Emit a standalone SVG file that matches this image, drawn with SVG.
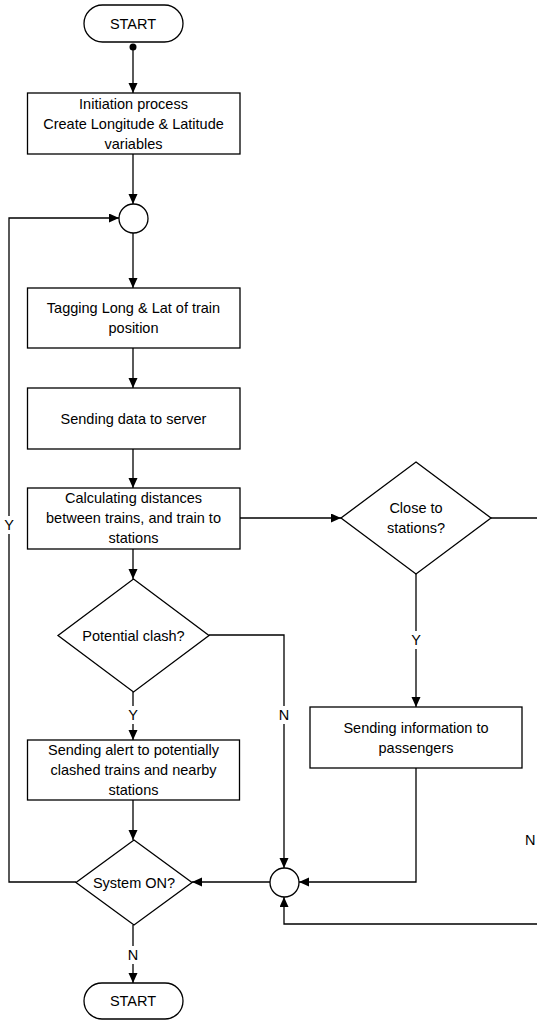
<svg xmlns="http://www.w3.org/2000/svg" width="537" height="1020" viewBox="0 0 537 1020">
<defs>
<style>
.s{fill:#fff;stroke:#000;stroke-width:1.3}
.t{font-family:"Liberation Sans",Arial,sans-serif;font-size:14.5px;fill:#000;text-anchor:middle}
.c{fill:none;stroke:#000;stroke-width:1.3}
.lb{fill:#fff;stroke:none}
</style>
<marker id="a" markerUnits="userSpaceOnUse" markerWidth="11" markerHeight="10" refX="10" refY="4.5" orient="auto">
<path d="M0,0 L10,4.5 L0,9 z" fill="#000"/>
</marker>
</defs>
<rect width="537" height="1020" fill="#fff"/>
<g id="connectors">
<circle cx="133" cy="47" r="3.5" fill="#000"/>
<path class="c" d="M133,47 V93" marker-end="url(#a)"/>
<path class="c" d="M133,154 V204" marker-end="url(#a)"/>
<path class="c" d="M133,233 V288" marker-end="url(#a)"/>
<path class="c" d="M133,348 V388" marker-end="url(#a)"/>
<path class="c" d="M133,449 V488" marker-end="url(#a)"/>
<path class="c" d="M240,518 H341" marker-end="url(#a)"/>
<path class="c" d="M491,518 H537"/>
<path class="c" d="M416,574 V707" marker-end="url(#a)"/>
<path class="c" d="M416,768 V882 H299" marker-end="url(#a)"/>
<path class="c" d="M537,924 H284 V897" marker-end="url(#a)"/>
<path class="c" d="M133,549 V579" marker-end="url(#a)"/>
<path class="c" d="M209,635 H284 V868" marker-end="url(#a)"/>
<path class="c" d="M133,692 V740" marker-end="url(#a)"/>
<path class="c" d="M133,800 V840" marker-end="url(#a)"/>
<path class="c" d="M270,882 H192" marker-end="url(#a)"/>
<path class="c" d="M76,882 H9 V218 H119" marker-end="url(#a)"/>
<path class="c" d="M133,925 V983" marker-end="url(#a)"/>
<rect class="lb" x="410" y="631" width="12" height="18"/>
<text class="t" x="416" y="645">Y</text>
<rect class="lb" x="278" y="706" width="12" height="18"/>
<text class="t" x="284" y="720">N</text>
<rect class="lb" x="127" y="706" width="12" height="18"/>
<text class="t" x="133" y="720">Y</text>
<rect class="lb" x="3" y="516" width="12" height="18"/>
<text class="t" x="9" y="530">Y</text>
<rect class="lb" x="127" y="946" width="12" height="18"/>
<text class="t" x="133" y="960">N</text>
<text class="t" x="525" y="845" style="text-anchor:start">N</text>
</g>
<g id="start">
<rect class="s" x="84" y="5" width="99" height="37" rx="18.5"/>
<text class="t" x="133" y="29">START</text>
</g>
<g id="init">
<rect class="s" x="27.5" y="93" width="212.5" height="61"/>
<text class="t" x="133.5" y="109">Initiation process</text>
<text class="t" x="133.5" y="129">Create Longitude &amp; Latitude</text>
<text class="t" x="133.5" y="149">variables</text>
</g>
<g id="junction1">
<circle class="s" cx="133.5" cy="218.5" r="14.5"/>
</g>
<g id="tagging">
<rect class="s" x="27.5" y="288" width="212.5" height="60"/>
<text class="t" x="133.5" y="313">Tagging Long &amp; Lat of train</text>
<text class="t" x="133.5" y="333">position</text>
</g>
<g id="sending">
<rect class="s" x="27.5" y="388" width="212.5" height="61"/>
<text class="t" x="133.5" y="424">Sending data to server</text>
</g>
<g id="calc">
<rect class="s" x="27.5" y="488" width="212.5" height="61"/>
<text class="t" x="133.5" y="503">Calculating distances</text>
<text class="t" x="133.5" y="523">between trains, and train to</text>
<text class="t" x="133.5" y="543">stations</text>
</g>
<g id="close">
<polygon class="s" points="416,462 491,518 416,574 341,518"/>
<text class="t" x="416" y="513">Close to</text>
<text class="t" x="416" y="533">stations?</text>
</g>
<g id="info">
<rect class="s" x="310" y="707" width="212" height="61"/>
<text class="t" x="416" y="733">Sending information to</text>
<text class="t" x="416" y="753">passengers</text>
</g>
<g id="clash">
<polygon class="s" points="133.5,579 209,635.5 133.5,692 58,635.5"/>
<text class="t" x="133.5" y="641">Potential clash?</text>
</g>
<g id="alert">
<rect class="s" x="27.5" y="740" width="212" height="60"/>
<text class="t" x="133.5" y="755">Sending alert to potentially</text>
<text class="t" x="133.5" y="775">clashed trains and nearby</text>
<text class="t" x="133.5" y="795">stations</text>
</g>
<g id="junction2">
<circle class="s" cx="284.5" cy="882.5" r="14.5"/>
</g>
<g id="system">
<polygon class="s" points="134,840 192,882.5 134,925 76,882.5"/>
<text class="t" x="134" y="888">System ON?</text>
</g>
<g id="end">
<rect class="s" x="84" y="983" width="99" height="36" rx="18"/>
<text class="t" x="133" y="1006">START</text>
</g>
</svg>
